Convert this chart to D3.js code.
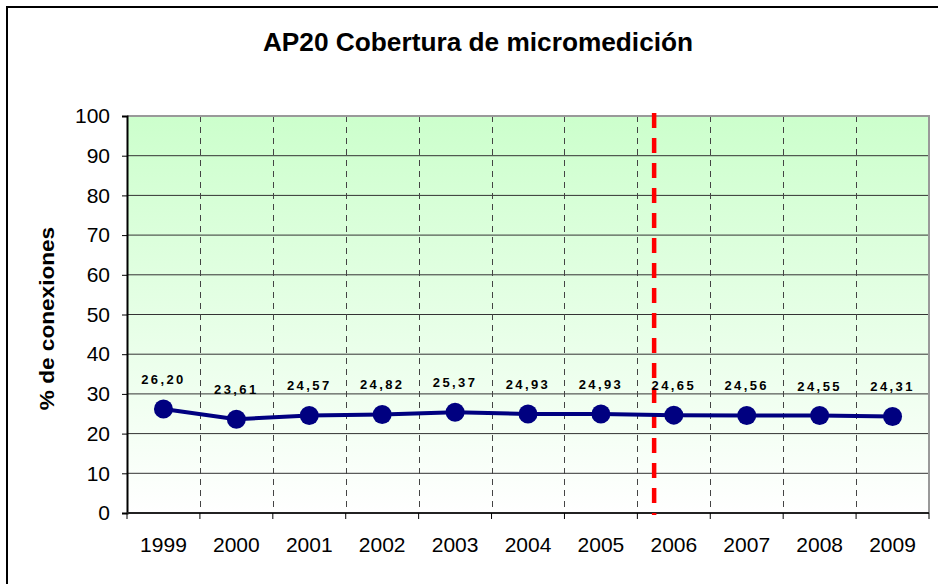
<!DOCTYPE html>
<html>
<head>
<meta charset="utf-8">
<script src="https://cdn.jsdelivr.net/npm/d3@7"></script>
<style>
  html, body { margin: 0; padding: 0; background: #fff; }
  svg { display: block; font-family: Arial, "Liberation Sans", sans-serif; }
</style>
</head>
<body>
<svg id="chart" width="938" height="584"></svg>
<script>
// AP20 coverage, % of connections with micro-metering, per year.
const years = ["1999", "2000", "2001", "2002", "2003", "2004", "2005", "2006", "2007", "2008", "2009"];
const coverage = [26.20, 23.61, 24.57, 24.82, 25.37, 24.93, 24.93, 24.65, 24.56, 24.55, 24.31];
const yTicks = [0, 10, 20, 30, 40, 50, 60, 70, 80, 90, 100];
// red marker sits a bit past the 2005/2006 boundary (in band units)
const markerPos = 7.23;

const margin = { top: 116, right: 9, bottom: 71, left: 127 };
const W = 938, H = 584;
const innerW = W - margin.left - margin.right;
const innerH = H - margin.top - margin.bottom;
const FONT = "Arial, 'Liberation Sans', sans-serif";

const svg = d3.select("#chart");

// outer frame (only top/left visible in the crop)
svg.append("rect")
  .attr("x", 7).attr("y", 7)
  .attr("width", W + 20).attr("height", H + 20)
  .attr("fill", "none").attr("stroke", "#000").attr("stroke-width", 2);

const x = d3.scaleBand().domain(years).range([margin.left, margin.left + innerW]);
const xLin = d3.scaleLinear().domain([0, years.length]).range([margin.left, margin.left + innerW]);
const y = d3.scaleLinear().domain([0, 100]).range([margin.top + innerH, margin.top]);

// plot background gradient
const defs = svg.append("defs");
const grad = defs.append("linearGradient")
  .attr("id", "bg").attr("x1", 0).attr("y1", 0).attr("x2", 0).attr("y2", 1);
grad.append("stop").attr("offset", "0%").attr("stop-color", "#ccffcc");
grad.append("stop").attr("offset", "100%").attr("stop-color", "#ffffff");

svg.append("rect")
  .attr("x", margin.left).attr("y", margin.top)
  .attr("width", innerW).attr("height", innerH)
  .attr("fill", "url(#bg)");

// horizontal gridlines
svg.append("g")
  .selectAll("line")
  .data(yTicks.slice(1, -1))
  .join("line")
  .attr("x1", margin.left).attr("x2", margin.left + innerW)
  .attr("y1", (d) => y(d)).attr("y2", (d) => y(d))
  .attr("stroke", "#333").attr("stroke-width", 1);

// vertical dashed gridlines at category boundaries
svg.append("g")
  .selectAll("line")
  .data(d3.range(1, years.length))
  .join("line")
  .attr("x1", (d) => Math.round(xLin(d)) + 0.5).attr("x2", (d) => Math.round(xLin(d)) + 0.5)
  .attr("y1", margin.top).attr("y2", margin.top + innerH)
  .attr("stroke", "#444").attr("stroke-width", 1)
  .attr("stroke-dasharray", "6,5");

// top and right plot border (gray)
svg.append("path")
  .attr("d", `M${margin.left},${margin.top} H${margin.left + innerW} V${margin.top + innerH}`)
  .attr("fill", "none").attr("stroke", "#999").attr("stroke-width", 2);

// y axis
const yAxis = svg.append("g")
  .attr("transform", `translate(${margin.left},0)`)
  .call(d3.axisLeft(y).tickValues(yTicks).tickSize(5).tickPadding(12));
yAxis.select(".domain").attr("stroke", "#000").attr("stroke-width", 2);
yAxis.selectAll(".tick line").attr("stroke", "#000");
yAxis.selectAll("text").attr("font-size", 21).attr("fill", "#000").attr("font-family", FONT);

// x axis: ticks on boundaries, labels at band centers
const xAxis = svg.append("g")
  .attr("transform", `translate(0,${margin.top + innerH})`)
  .call(d3.axisBottom(x).tickSize(0).tickPadding(24));
xAxis.select(".domain").remove();
xAxis.selectAll("text").attr("font-size", 21).attr("fill", "#000").attr("font-family", FONT);
xAxis.append("line")
  .attr("x1", margin.left).attr("x2", margin.left + innerW)
  .attr("stroke", "#222").attr("stroke-width", 2);
xAxis.selectAll(".bnd")
  .data(d3.range(0, years.length + 1))
  .join("line")
  .attr("class", "bnd")
  .attr("x1", (d) => xLin(d)).attr("x2", (d) => xLin(d))
  .attr("y1", 0).attr("y2", 6)
  .attr("stroke", "#000").attr("stroke-width", 1);

// red dashed marker
svg.append("line")
  .attr("x1", xLin(markerPos)).attr("x2", xLin(markerPos))
  .attr("y1", margin.top - 3).attr("y2", margin.top + innerH + 2)
  .attr("stroke", "#ff0000").attr("stroke-width", 4.5)
  .attr("stroke-dasharray", "15,10");

// series line
const cx = (d, i) => x(years[i]) + x.bandwidth() / 2;
const line = d3.line().x((d, i) => cx(d, i)).y((d) => y(d));
svg.append("path")
  .datum(coverage)
  .attr("d", line)
  .attr("fill", "none").attr("stroke", "#000080").attr("stroke-width", 4);

svg.append("g")
  .selectAll("circle")
  .data(coverage)
  .join("circle")
  .attr("cx", cx).attr("cy", (d) => y(d))
  .attr("r", 9.5)
  .attr("fill", "#000080");

// value labels
svg.append("g")
  .selectAll("text")
  .data(coverage)
  .join("text")
  .attr("x", cx).attr("y", (d) => y(d) - 25)
  .attr("text-anchor", "middle")
  .attr("font-size", 13).attr("font-weight", "bold")
  .attr("letter-spacing", "2.4px")
  .text((d) => d.toFixed(2).replace(".", ","));

// title (reference font is a little wider than Liberation)
svg.append("text")
  .attr("transform", "translate(478,51) scale(1.05,1)")
  .attr("text-anchor", "middle")
  .attr("font-size", 25).attr("font-weight", "bold")
  .text("AP20 Cobertura de micromedición");

// y axis title
svg.append("text")
  .attr("transform", `translate(54,${margin.top + innerH / 2 + 4}) rotate(-90) scale(1.13,1)`)
  .attr("text-anchor", "middle")
  .attr("font-size", 20).attr("font-weight", "bold")
  .text("% de conexiones");
</script>
</body>
</html>
